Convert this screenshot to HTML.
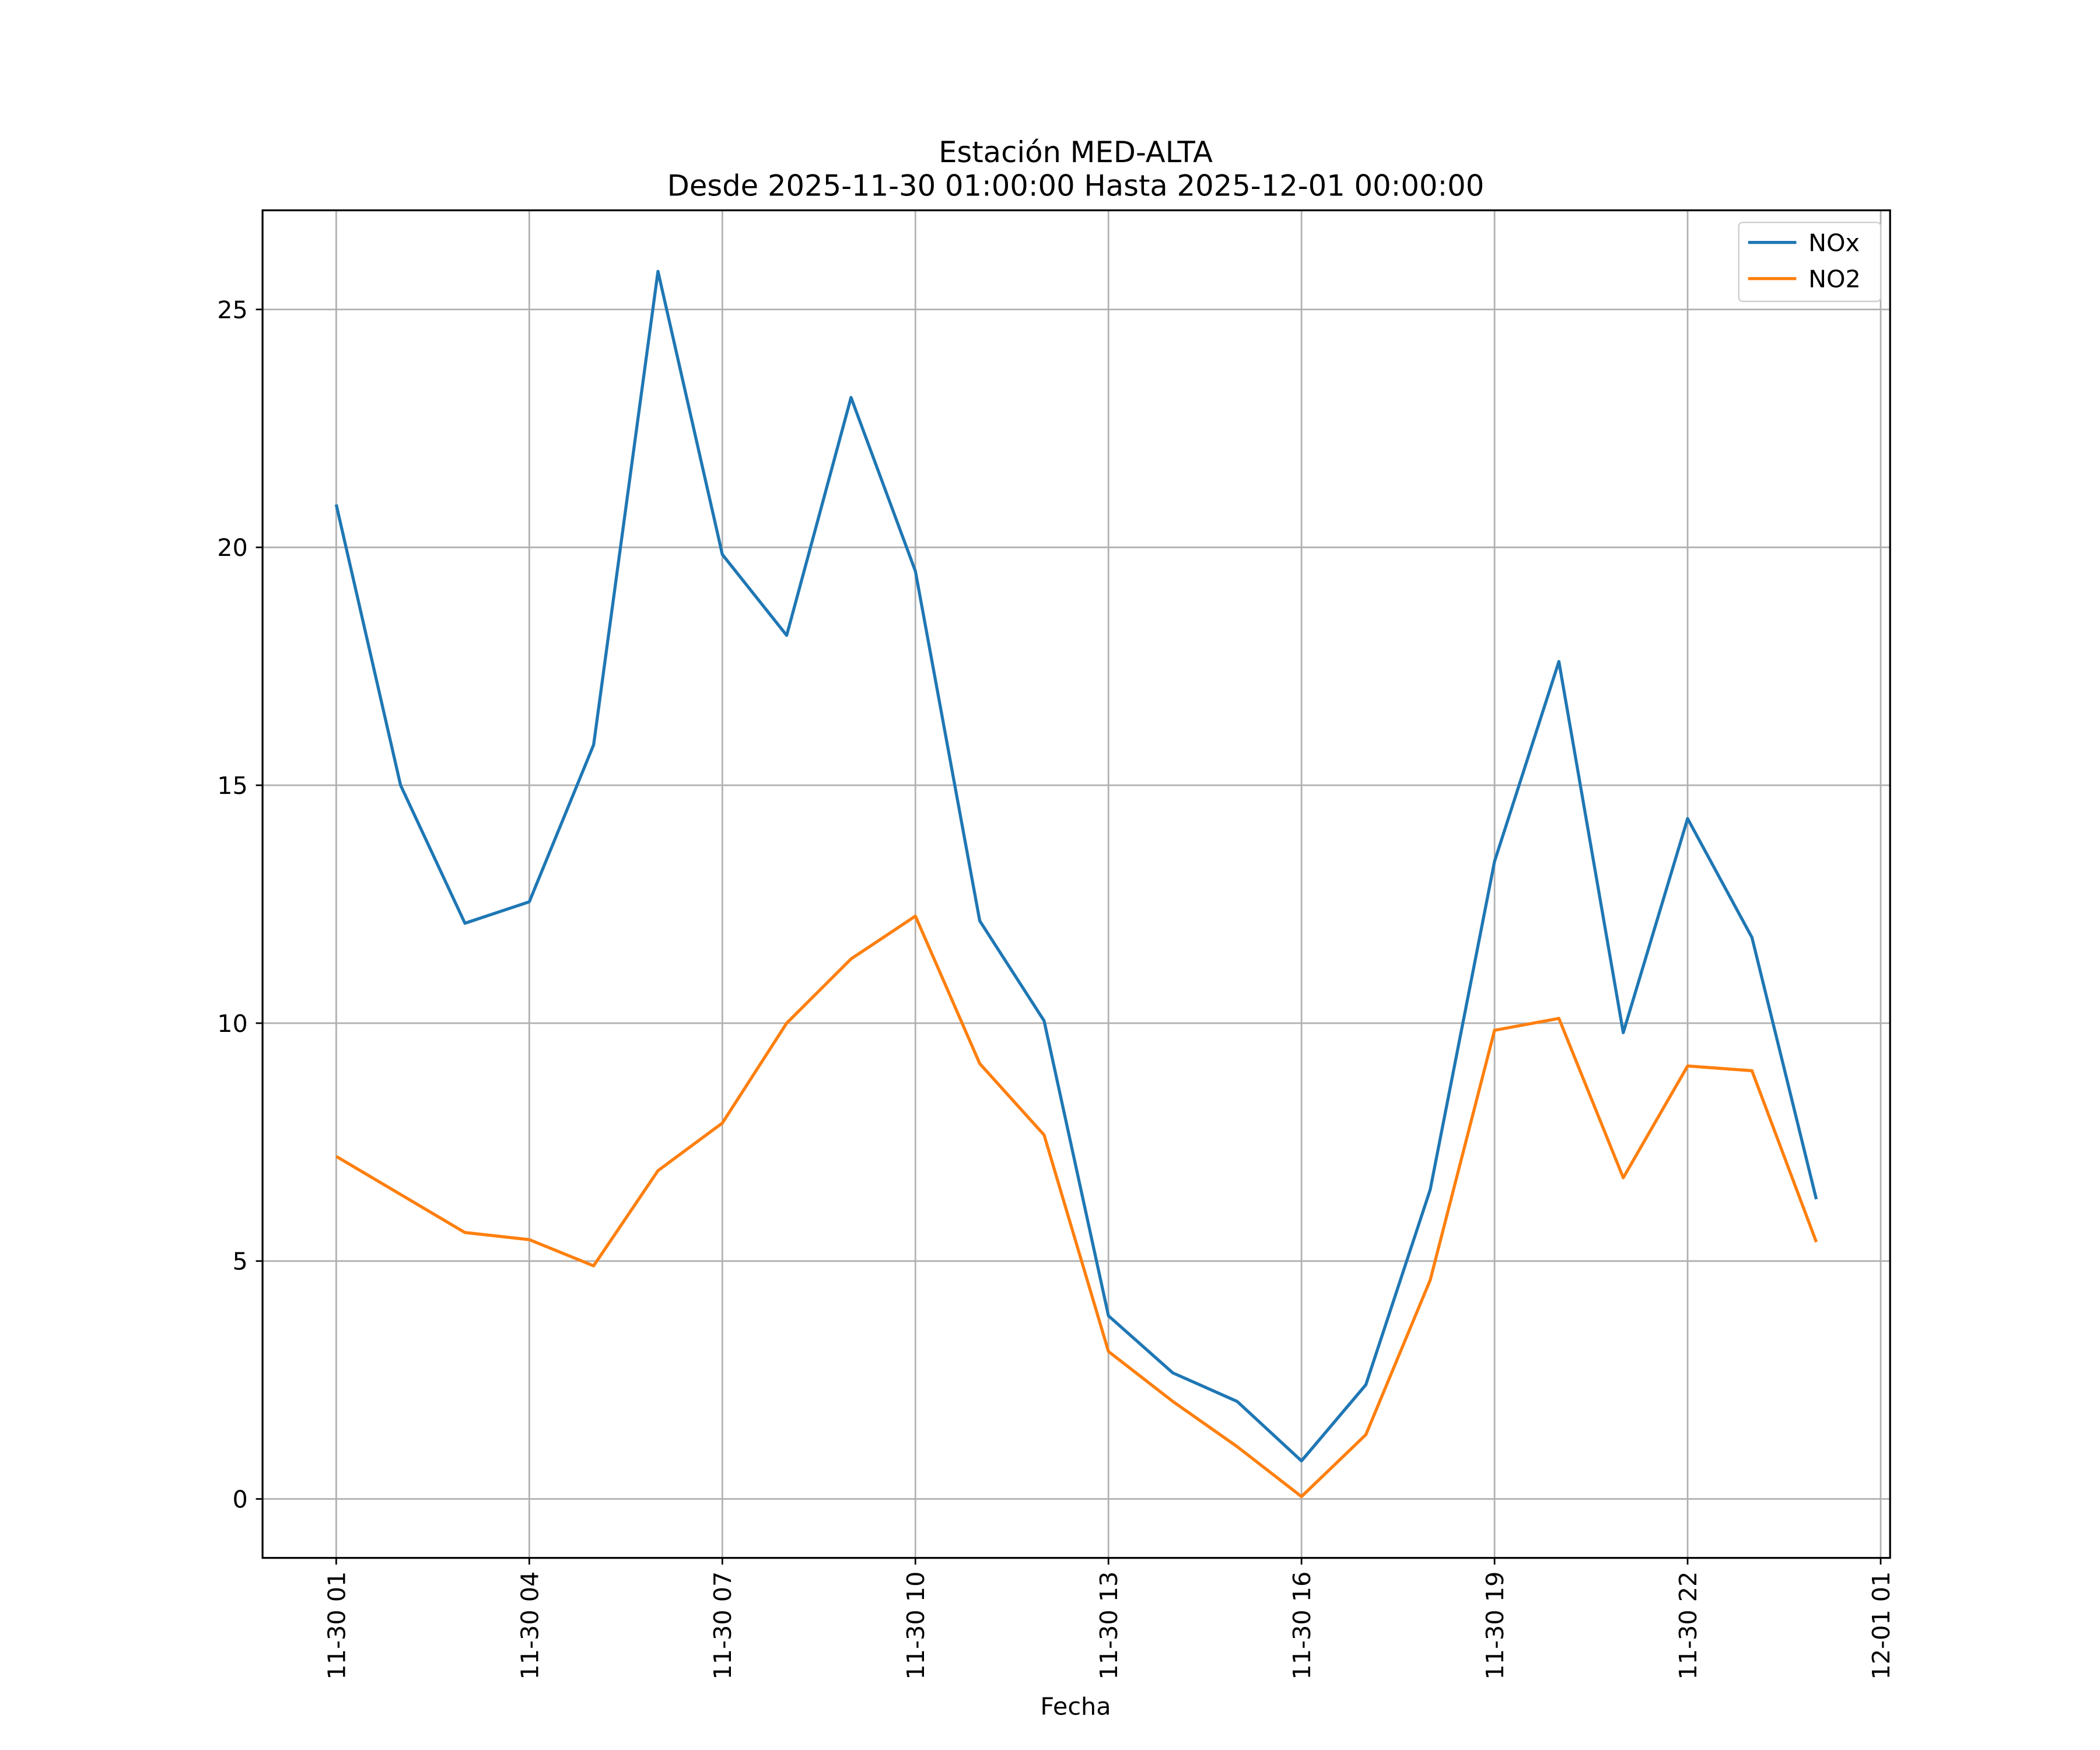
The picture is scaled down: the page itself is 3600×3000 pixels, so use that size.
<!DOCTYPE html>
<html><head><meta charset="utf-8"><style>html,body{margin:0;padding:0;background:#fff}svg{display:block}</style></head>
<body>
<svg id="chart" width="3600" height="3000" viewBox="0 0 1567.7 1306.4" xmlns="http://www.w3.org/2000/svg" font-family="'DejaVu Sans','Liberation Sans',sans-serif">
<rect width="1568" height="1307" fill="#fff"/>
<text x="803" y="121" font-size="21.6" text-anchor="middle">Estación MED-ALTA</text>
<text x="803" y="146" font-size="21.6" text-anchor="middle">Desde 2025-11-30 01:00:00 Hasta 2025-12-01 00:00:00</text>
<g id="grid"></g>
<g id="series"></g>
<rect x="196" y="157" width="1215" height="1006" fill="none" stroke="#000" stroke-width="1.4"/>
<g id="axes"></g>
<text x="803" y="1280" font-size="18" text-anchor="middle">Fecha</text>
<g>
<rect x="1298" y="166" width="106" height="59" rx="3" fill="#fff" fill-opacity="0.8" stroke="#ccc"/>
<line x1="1305" y1="181" x2="1341" y2="181" stroke="#1f77b4" stroke-width="2.3"/>
<text x="1350" y="187.5" font-size="18">NOx</text>
<line x1="1305" y1="208" x2="1341" y2="208" stroke="#ff7f0e" stroke-width="2.3"/>
<text x="1350" y="214.5" font-size="18">NO2</text>
</g>
<script>
const hours=[1,2,3,4,5,6,7,8,9,10,11,12,13,14,15,16,17,18,19,20,21,22,23,24];
const noxValues=[20.9,15.0,12.1,12.55,15.85,25.8,19.85,18.15,23.15,19.5,12.15,10.05,3.85,2.65,2.05,0.8,2.4,6.5,13.4,17.6,9.8,14.3,11.8,6.3];
const no2Values=[7.2,6.4,5.6,5.45,4.9,6.9,7.9,10.0,11.35,12.25,9.15,7.65,3.1,2.05,1.1,0.05,1.35,4.6,9.85,10.1,6.75,9.1,9.0,5.4];
const yTicks=[0,5,10,15,20,25];
const xTickHours=[1,4,7,10,13,16,19,22,25];
const xTickLabels=["11-30 01","11-30 04","11-30 07","11-30 10","11-30 13","11-30 16","11-30 19","11-30 22","12-01 01"];
const NS="http://www.w3.org/2000/svg";
function xs(h){return 251+(h-1)*48.04;}
function ys(v){return 1119-v*35.52;}
function mk(t,a,p){const e=document.createElementNS(NS,t);for(const k in a)e.setAttribute(k,a[k]);p.appendChild(e);return e;}
const grid=document.getElementById('grid'),axes=document.getElementById('axes'),ser=document.getElementById('series');
yTicks.forEach(v=>{
 const g=mk('line',{x1:196,x2:1411,y1:ys(v),y2:ys(v),stroke:'#b0b0b0','stroke-width':1.2},grid);
 
 
 const t=mk('line',{x1:191,x2:196,y1:ys(v),y2:ys(v),stroke:'#000','stroke-width':1.2},axes);
 
 
 const l=mk('text',{x:185,y:ys(v)+6.5,'font-size':18,'text-anchor':'end'},axes);l.textContent=v;
 
 
});
xTickHours.forEach((h,i)=>{
 const x=xs(h);
 const g=mk('line',{x1:x,x2:x,y1:157,y2:1163,stroke:'#b0b0b0','stroke-width':1.2},grid);
 
 
 const t=mk('line',{x1:x,x2:x,y1:1163,y2:1168,stroke:'#000','stroke-width':1.2},axes);
 
 
 const l=mk('text',{x:0,y:0,'font-size':18,'text-anchor':'end',transform:`translate(${x+6.5},1173) rotate(-90)`},axes);l.textContent=xTickLabels[i];
 
 
});
function line(vals,color,name){
 const p=mk('polyline',{points:vals.map((v,i)=>xs(hours[i])+','+ys(v)).join(' '),fill:'none',stroke:color,'stroke-width':2.3,'stroke-linejoin':'round'},ser);
 
 
}
line(noxValues,'#1f77b4','nox-line');
line(no2Values,'#ff7f0e','no2-line');
</script>
</svg>
</body></html>
